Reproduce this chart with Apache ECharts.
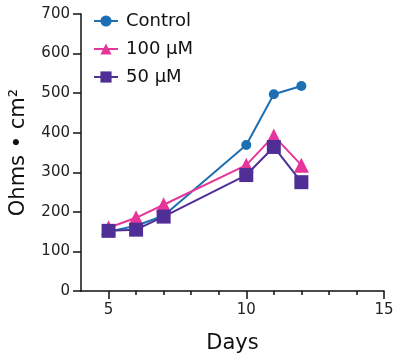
<!DOCTYPE html>
<html><head><meta charset="utf-8">
<script src="https://cdn.jsdelivr.net/npm/echarts@6/dist/echarts.min.js"></script>
<style>html,body{margin:0;padding:0;background:#fff}#c{width:400px;height:360px}</style>
</head><body><div id="c"></div>
<script>
var days = [5, 6, 7, 10, 11, 12];
var control = [150, 165, 190, 369, 497, 518];
var uM100 = [160, 185, 218, 318, 392, 318];
var uM50 = [152, 155, 188, 293, 364, 275];
var seriesNames = ['Control', '100 μM', '50 μM'];
var xMajorTicks = [5, 10, 15];
var xMinorTicks = [6, 7, 8, 9, 11, 12, 13, 14];
var yTicks = [0, 100, 200, 300, 400, 500, 600, 700];

function pairs(v){ return days.map(function(d,i){ return [d, v[i]]; }); }
var font = 'DejaVu Sans';
var chart = echarts.init(document.getElementById('c'), null, {renderer:'canvas'});
var colors = ['#1c6fb2', '#e8359b', '#4f2f95'];
chart.setOption({
  animation: false,
  textStyle: {fontFamily: font},
  grid: {left: 79, right: 16, top: 14, bottom: 69},
  legend: {
    orient: 'vertical', left: 88, top: 7, itemWidth: 24, itemHeight: 14, itemGap: 10,
    textStyle: {fontSize: 18, color: '#111', fontFamily: font, padding: [0, 0, 0, 3]},
    data: seriesNames
  },
  xAxis: [{
    type: 'value', min: 4, max: 15, position: 'bottom',
    name: 'Days', nameLocation: 'middle', nameGap: 42,
    nameTextStyle: {fontSize: 21, color: '#111', fontFamily: font},
    axisLine: {show: true, onZero: false, lineStyle: {color: '#111', width: 1.5}},
    axisTick: {show: true, length: 8, customValues: xMajorTicks, lineStyle: {color: '#111', width: 1.5}},
    axisLabel: {customValues: xMajorTicks, fontSize: 15, color: '#222', margin: 12, fontFamily: font},
    splitLine: {show: false}
  }, {
    type: 'value', min: 4, max: 15, position: 'bottom', offset: 0,
    axisLine: {show: false},
    axisTick: {show: true, length: 4, customValues: xMinorTicks, lineStyle: {color: '#111', width: 1.5}},
    axisLabel: {show: false},
    splitLine: {show: false}
  }],
  yAxis: {
    type: 'value', min: 0, max: 700, interval: 100,
    name: 'Ohms • cm²', nameLocation: 'middle', nameGap: 52, nameRotate: 90,
    nameTextStyle: {fontSize: 21, color: '#111', fontFamily: font},
    axisLine: {show: true, lineStyle: {color: '#111', width: 1.5}},
    axisTick: {show: true, inside: false, length: 8, lineStyle: {color: '#111', width: 1.5}},
    axisLabel: {fontSize: 15, color: '#222', margin: 11, fontFamily: font},
    splitLine: {show: false}
  },
  series: [
    {name: seriesNames[0], type: 'line', data: pairs(control), symbol: 'circle', symbolSize: 10,
     color: colors[0], lineStyle: {width: 2}, z: 2},
    {name: seriesNames[1], type: 'line', data: pairs(uM100), symbol: 'triangle', symbolSize: 15,
     color: colors[1], lineStyle: {width: 2}, z: 3},
    {name: seriesNames[2], type: 'line', data: pairs(uM50), symbol: 'rect', symbolSize: 14,
     color: colors[2], lineStyle: {width: 2}, z: 4}
  ]
});
</script></body></html>
